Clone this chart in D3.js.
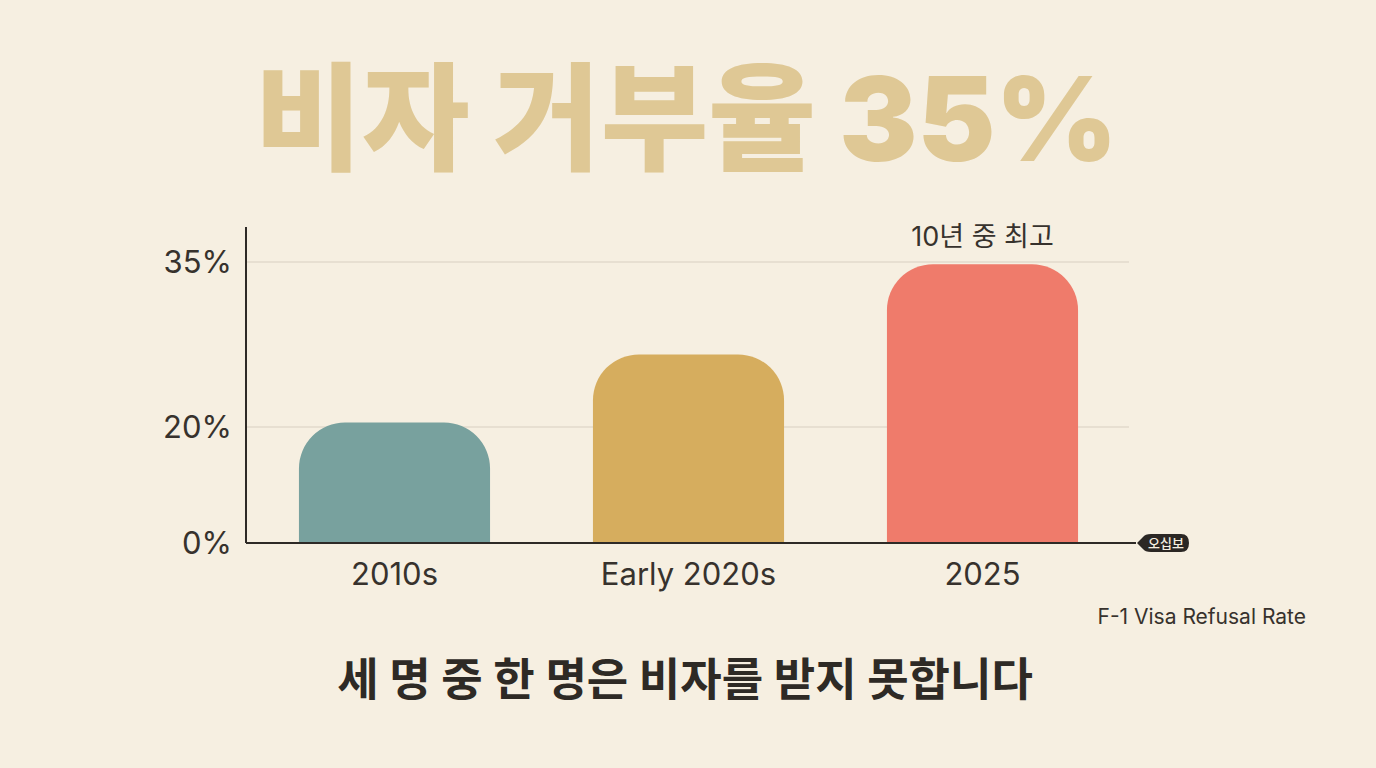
<!DOCTYPE html>
<html>
<head>
<meta charset="utf-8">
<script src="https://cdn.jsdelivr.net/npm/d3@7"></script>
<style>
  html, body { margin: 0; padding: 0; background: #f6efe1; }
  svg { display: block; }
  text { font-family: Inter, "Noto Sans CJK KR", sans-serif; }
</style>
</head>
<body>
<script>
let categories = ["2010s", "Early 2020s", "2025"];
let rates = [20.4, 26.6, 34.8];
let barColors = ["#78a19e", "#d6ad5e", "#ef7b6b"];
let tickValues = [0, 20, 35];
let tickLabels = ["0%", "20%", "35%"];

let W = 1376, H = 768;
let svg = d3.select("body").append("svg").attr("width", W).attr("height", H);

svg.append("rect").attr("width", W).attr("height", H).attr("fill", "#f6efe1");

// title
svg.append("text")
    .attr("x", 686).attr("y", 161)
    .attr("text-anchor", "middle")
    .attr("font-family", "'Noto Sans', 'Noto Sans CJK KR', sans-serif")
    .attr("font-size", 117).attr("font-weight", 900)
    .attr("fill", "#dfc895")
    .text("비자 거부율 35%");

let x = d3.scaleBand()
    .domain(categories)
    .range([247.5, 1129.5])
    .paddingInner(0.35)
    .paddingOuter(0.175);

// the tick spacing in the picture is not even, so a piecewise scale
let y = d3.scaleLinear()
    .domain([0, 20, 35])
    .range([543, 427, 262]);

let g = svg.append("g");

// gridlines
g.selectAll(".grid").data(tickValues.filter(d => d > 0)).join("line")
    .attr("x1", 247).attr("x2", 1129)
    .attr("y1", d => y(d)).attr("y2", d => y(d))
    .attr("stroke", "#e2dacb").attr("stroke-width", 1.5);

// bars with rounded top corners
let r = 46;
function barPath(d, i) {
  let x0 = x(d), w = x.bandwidth(), y0 = y(0), y1 = y(rates[i]);
  let p = d3.path();
  p.moveTo(x0, y0);
  p.lineTo(x0, y1 + r);
  p.arcTo(x0, y1, x0 + r, y1, r);
  p.lineTo(x0 + w - r, y1);
  p.arcTo(x0 + w, y1, x0 + w, y1 + r, r);
  p.lineTo(x0 + w, y0);
  p.closePath();
  return p.toString();
}
g.selectAll(".bar").data(categories).join("path")
    .attr("d", barPath)
    .attr("fill", (d, i) => barColors[i]);

// axes
g.append("line").attr("x1", 246).attr("x2", 246).attr("y1", 227).attr("y2", 543)
    .attr("stroke", "#2e2a26").attr("stroke-width", 2);
g.append("line").attr("x1", 246).attr("x2", 1136).attr("y1", 543).attr("y2", 543)
    .attr("stroke", "#2e2a26").attr("stroke-width", 2);

g.selectAll(".ytick").data(tickValues).join("text")
    .attr("x", 232).attr("y", d => y(d) + 11)
    .attr("text-anchor", "end")
    .attr("font-size", 31)
    .attr("fill", "#37322d")
    .text((d, i) => tickLabels[i]);

g.selectAll(".xlab").data(categories).join("text")
    .attr("x", d => x(d) + x.bandwidth() / 2).attr("y", 585)
    .attr("text-anchor", "middle")
    .attr("font-size", 31)
    .attr("fill", "#37322d")
    .text(d => d);

// annotation over the last bar
svg.append("text")
    .attr("x", x("2025") + x.bandwidth() / 2).attr("y", 246)
    .attr("text-anchor", "middle")
    .attr("font-size", 27)
    .attr("fill", "#37322d")
    .text("10년 중 최고");

// pill at the axis end
let pill = svg.append("g").attr("transform", "translate(1137,543)");
pill.append("path")
    .attr("d", "M0,0 L6,-6 Q8,-9 14,-9 L44,-9 Q52,-9 52,0 Q52,9 44,9 L14,9 Q8,9 6,6 Z")
    .attr("fill", "#2b2724");
pill.append("text")
    .attr("x", 29).attr("y", 5)
    .attr("text-anchor", "middle")
    .attr("font-family", "'Noto Sans CJK KR', sans-serif")
    .attr("font-size", 13).attr("font-weight", 500)
    .attr("fill", "#f6efe1")
    .text("오십보");

svg.append("text")
    .attr("x", 1306).attr("y", 624)
    .attr("text-anchor", "end")
    .attr("font-size", 21)
    .attr("fill", "#37322d")
    .text("F-1 Visa Refusal Rate");

svg.append("text")
    .attr("x", 685).attr("y", 696)
    .attr("text-anchor", "middle")
    .attr("font-family", "'Noto Sans CJK KR', sans-serif")
    .attr("font-size", 45).attr("font-weight", 700)
    .attr("fill", "#2e2a25")
    .text("세 명 중 한 명은 비자를 받지 못합니다");
</script>
</body>
</html>
